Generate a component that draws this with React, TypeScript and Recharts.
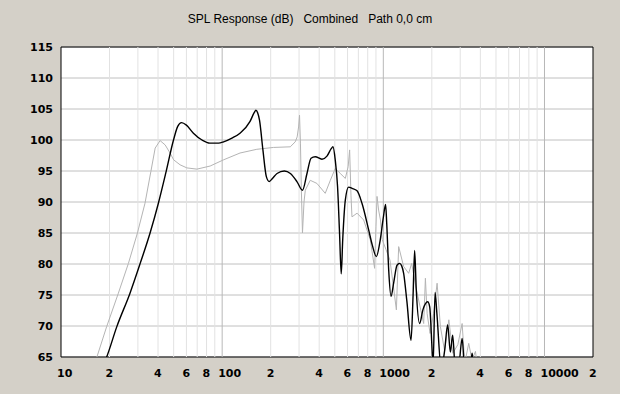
import { LineChart, Line, XAxis, YAxis, CartesianGrid, ReferenceLine, ReferenceArea } from 'recharts'

// black trace (Combined)
const combinedFreq = [
  18.5, 19.2, 22.2, 26.8, 31, 35.7, 40.2, 44.9, 49.9, 53, 56, 60, 66.3, 75, 84, 95, 102, 115, 129, 149,
  158, 162, 166, 170.5, 179, 188, 196, 205, 219, 243, 265, 291, 315, 336, 356, 378, 416, 447, 475, 487,
  503, 520, 535, 548, 560, 581, 609, 640, 687, 737, 811, 855, 905, 957, 1000, 1033, 1050, 1080, 1116,
  1160, 1216, 1262, 1300, 1337, 1400, 1486, 1530, 1564, 1600, 1680, 1760, 1884, 1940, 2000, 2035, 2095,
  2150, 2290, 2400, 2508, 2606, 2693, 2800, 2950, 3083, 3200, 3450, 3556, 3650,
]
const combinedDb = [
  64, 65, 69.9, 75.3, 80.1, 85, 89.8, 94.9, 100, 102.2, 102.8, 102.4, 101.1, 100, 99.5, 99.5, 99.7, 100.3,
  101.1, 103, 104.4, 104.8, 104.4, 103.2, 98.4, 94.1, 93.3, 93.8, 94.6, 95, 94.6, 93.3, 91.9, 94.6, 97.05,
  97.3, 96.9, 97.4, 98.6, 98.9, 96.8, 92.5, 85, 78.4, 84, 90.3, 92.4, 92.2, 91.8, 89.8, 85.5, 83, 81.2,
  83.9, 87.5, 89.6, 86.5, 79, 74.8, 77, 79.8, 80.1, 79.7, 78.5, 74, 67.7, 75, 82.2, 76, 70.4, 72.6, 73.9,
  73.1, 67, 63.5, 75.4, 72, 63, 66, 70.2, 65.8, 68.5, 63, 64, 68, 63, 63, 65.6, 63,
]

// grey trace
const driverFreq = [
  15.5, 16.7, 19.2, 22.7, 26.2, 29.8, 33.2, 36.1, 38.4, 41.2, 44.3, 47.5, 50, 54.8, 60.4, 69.7, 84.2, 102,
  129, 164, 208, 264.5, 284, 292, 298, 302, 306, 310, 315, 322, 328, 352, 387, 436, 469, 503, 541, 581,
  605, 618, 630, 639, 687, 755, 830, 883, 900, 914, 935, 960, 985, 1040, 1100, 1160, 1205, 1245, 1337,
  1436, 1500, 1600, 1780, 1824, 1870, 1950, 2050, 2156, 2260, 2400, 2550, 2700, 2900, 3083, 3200, 3388,
  3550, 3730, 3850,
]
const driverDb = [
  63, 65, 69.9, 75.3, 80.1, 85, 89.8, 94.9, 98.7, 99.9, 99.2, 97.9, 96.8, 96, 95.5, 95.3, 95.8, 96.8, 97.9,
  98.5, 98.8, 98.9, 99.7, 100.5, 102.1, 104, 99.5, 92, 85, 90, 91.9, 93.5, 93, 91.4, 93.5, 95.4, 94.6,
  93.8, 95.7, 98.4, 91, 87.6, 88.2, 87.1, 83.9, 79.3, 86, 90.9, 88.7, 87.1, 83.9, 82.3, 80.6, 76, 72.6,
  82.8, 79.6, 78.5, 80.1, 76, 70.4, 77.7, 72, 68.8, 72, 76.9, 69.9, 66, 71, 65.6, 67, 70.4, 64, 67.2,
  64.5, 65.9, 63,
]

const xTicks = [10, 20, 40, 60, 80, 100, 200, 400, 600, 800, 1000, 2000, 4000, 6000, 8000, 10000, 20000]
const yTicks = [65, 70, 75, 80, 85, 90, 95, 100, 105, 110, 115]
const minorGrid = [
  20, 30, 40, 50, 60, 70, 80, 90, 200, 300, 400, 500, 600, 700, 800, 900,
  2000, 3000, 4000, 5000, 6000, 7000, 8000, 9000,
]
const majorGrid = [100, 1000, 10000]

const toPoints = (freq: number[], db: number[]) => freq.map((f, i) => ({ f, db: db[i] }))

const combinedData = toPoints(combinedFreq, combinedDb)
const driverData = toPoints(driverFreq, driverDb)

const tickFont = { fontFamily: '"DejaVu Sans", sans-serif', fontSize: 11, fontWeight: 'bold' as const }

function FreqTick({ x, y, payload }: any) {
  const v = payload.value
  const label = [10, 100, 1000, 10000].includes(v) ? String(v) : String(v).charAt(0)
  return (
    <text x={x - 4} y={y + 12} textAnchor="start" fill="#000" style={tickFont}>
      {label}
    </text>
  )
}

export default function App() {
  return (
    <div style={{ position: 'absolute', left: 0, top: 0, width: 620, height: 394, background: '#d4d0c8' }}>
      <div
        style={{
          position: 'absolute',
          top: 12,
          left: 0,
          width: 620,
          textAlign: 'center',
          whiteSpace: 'pre',
          fontFamily: '"Liberation Sans", Arial, sans-serif',
          fontSize: 12,
          color: '#000',
        }}
      >
        {'SPL Response (dB)   Combined   Path 0,0 cm'}
      </div>
      <LineChart width={620} height={394} margin={{ top: 47, right: 27, bottom: 7, left: 11 }}>
        <CartesianGrid fill="#ffffff" fillOpacity={1} stroke="#c0c0c0" vertical={false} />
        {minorGrid.map((f) => (
          <ReferenceLine key={f} x={f} stroke="#e2e2e2" strokeWidth={1} />
        ))}
        {majorGrid.map((f) => (
          <ReferenceLine key={f} x={f} stroke="#b8b8b8" strokeWidth={1} />
        ))}
        <XAxis
          dataKey="f"
          type="number"
          scale="log"
          domain={[10, 20000]}
          ticks={xTicks}
          interval={0}
          allowDataOverflow
          tickLine={false}
          axisLine={false}
          height={30}
          tick={(props: any) => <FreqTick {...props} />}
        />
        <YAxis
          type="number"
          domain={[65, 115]}
          ticks={yTicks}
          interval={0}
          allowDataOverflow
          tickLine={false}
          axisLine={false}
          width={50}
          tick={{ ...tickFont, fill: '#000' }}
        />
        <Line
          data={driverData}
          dataKey="db"
          type="linear"
          stroke="#b4b4b4"
          strokeWidth={1}
          dot={false}
          isAnimationActive={false}
        />
        <Line
          data={combinedData}
          dataKey="db"
          type="monotone"
          stroke="#000000"
          strokeWidth={1.4}
          dot={false}
          isAnimationActive={false}
        />
        <ReferenceArea x1={10} x2={20000} y1={65} y2={115} fill="none" stroke="#000" strokeWidth={1} />
      </LineChart>
    </div>
  )
}
